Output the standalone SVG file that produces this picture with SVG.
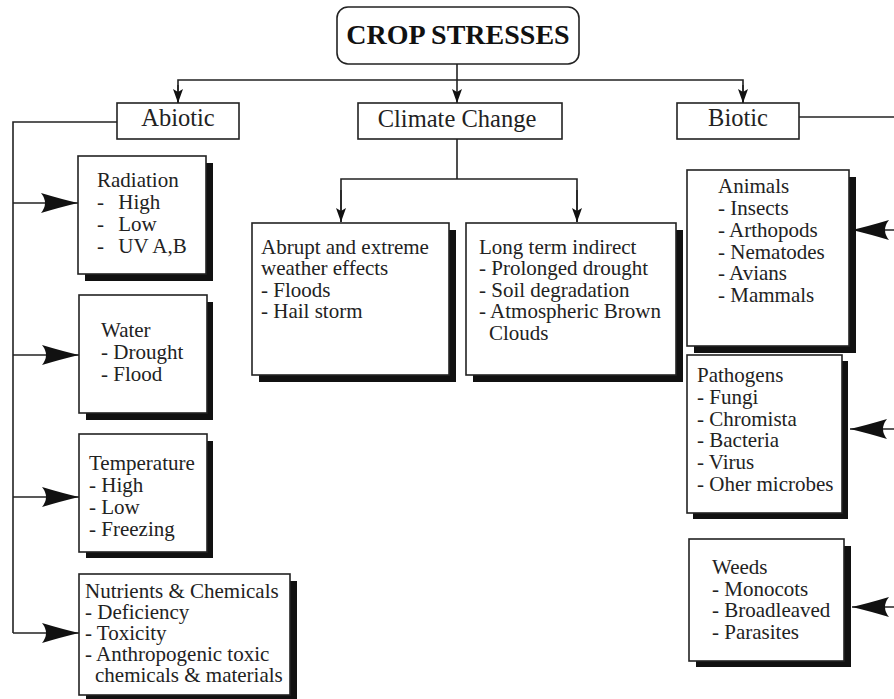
<svg xmlns="http://www.w3.org/2000/svg" width="894" height="699" viewBox="0 0 894 699">
<style>
.bx{fill:#fff;stroke:#222;stroke-width:1.6}
.sh{fill:#111}
.ln{fill:none;stroke:#222;stroke-width:1.6}
.t{font-family:"Liberation Serif","Times New Roman",serif;font-size:21px;fill:#222}
.h{font-family:"Liberation Serif","Times New Roman",serif;font-size:24.5px;fill:#222;text-anchor:middle}
.title{font-family:"Liberation Serif","Times New Roman",serif;font-size:28px;font-weight:bold;fill:#111;text-anchor:middle}
</style>
<defs>
<marker id="sm" markerUnits="userSpaceOnUse" markerWidth="16" markerHeight="12" refX="14" refY="5" orient="auto" overflow="visible">
<path d="M0,0 L14,5 L0,10 L3,5 Z" fill="#111"/>
</marker>
<marker id="big" markerUnits="userSpaceOnUse" markerWidth="40" markerHeight="24" refX="37" refY="11" orient="auto" overflow="visible">
<path d="M37,11 Q20,7 0,1 Q8,11 0,21 Q20,15 37,11 Z" fill="#111"/>
</marker>
</defs>

<g id="connectors">
<line class="ln" x1="457" y1="64" x2="457" y2="103" marker-end="url(#sm)"/>
<polyline class="ln" points="178,103 178,80 743,80 743,103" />
<line class="ln" x1="178" y1="85" x2="178" y2="103" marker-end="url(#sm)"/>
<line class="ln" x1="743" y1="85" x2="743" y2="103" marker-end="url(#sm)"/>
<polyline class="ln" points="117,122 13,122 13,633"/>
<line class="ln" x1="13" y1="203" x2="78" y2="203" marker-end="url(#big)"/>
<line class="ln" x1="13" y1="355" x2="79" y2="355" marker-end="url(#big)"/>
<line class="ln" x1="13" y1="497" x2="79" y2="497" marker-end="url(#big)"/>
<line class="ln" x1="13" y1="633" x2="79" y2="633" marker-end="url(#big)"/>
<polyline class="ln" points="457,139 457,179"/>
<polyline class="ln" points="341,222 341,179 577,179 577,222"/>
<line class="ln" x1="341" y1="190" x2="341" y2="222" marker-end="url(#sm)"/>
<line class="ln" x1="577" y1="190" x2="577" y2="222" marker-end="url(#sm)"/>
<line class="ln" x1="799" y1="117" x2="894" y2="117"/>
<line class="ln" x1="894" y1="230" x2="852" y2="230" marker-end="url(#big)"/>
<line class="ln" x1="894" y1="429" x2="850" y2="429" marker-end="url(#big)"/>
<line class="ln" x1="894" y1="607" x2="852" y2="607" marker-end="url(#big)"/>
</g>

<g id="crop-stresses">
<rect class="bx" x="337" y="7" width="242" height="57" rx="11"/>
<text class="title" x="458" y="44">CROP STRESSES</text>
</g>

<g id="abiotic">
<rect class="bx" x="117" y="103" width="122" height="36"/>
<text class="h" x="178" y="126">Abiotic</text>
</g>

<g id="climate-change">
<rect class="bx" x="358" y="103" width="204" height="36"/>
<text class="h" x="457" y="127">Climate Change</text>
</g>

<g id="biotic">
<rect class="bx" x="677" y="103" width="122" height="36"/>
<text class="h" x="738" y="126">Biotic</text>
</g>

<g id="radiation">
<rect class="sh" x="85" y="163" width="128" height="118"/>
<rect class="bx" x="78" y="156" width="128" height="118"/>
<text class="t" x="97" y="187">Radiation</text>
<text class="t" x="97" y="209">- <tspan dx="9">High</tspan></text>
<text class="t" x="97" y="231">- <tspan dx="9">Low</tspan></text>
<text class="t" x="97" y="253">- <tspan dx="9">UV A,B</tspan></text>
</g>

<g id="water">
<rect class="sh" x="86" y="302" width="127" height="118"/>
<rect class="bx" x="79" y="295" width="128" height="118"/>
<text class="t" x="101" y="337">Water</text>
<text class="t" x="101" y="359">- Drought</text>
<text class="t" x="101" y="381">- Flood</text>
</g>

<g id="temperature">
<rect class="sh" x="86" y="441" width="127" height="117"/>
<rect class="bx" x="79" y="434" width="128" height="118"/>
<text class="t" x="89" y="470">Temperature</text>
<text class="t" x="89" y="492">- High</text>
<text class="t" x="89" y="514">- Low</text>
<text class="t" x="89" y="536">- Freezing</text>
</g>

<g id="nutrients">
<rect class="sh" x="86" y="581" width="211" height="121"/>
<rect class="bx" x="79" y="574" width="211" height="121"/>
<text class="t" x="85" y="598">Nutrients &amp; Chemicals</text>
<text class="t" x="85" y="619">- Deficiency</text>
<text class="t" x="85" y="640">- Toxicity</text>
<text class="t" x="85" y="661">- Anthropogenic toxic</text>
<text class="t" x="95" y="682">chemicals &amp; materials</text>
</g>

<g id="abrupt">
<rect class="sh" x="259" y="230" width="197" height="152"/>
<rect class="bx" x="252" y="223" width="197" height="152"/>
<text class="t" x="261" y="254">Abrupt and extreme</text>
<text class="t" x="261" y="275">weather effects</text>
<text class="t" x="261" y="297">- Floods</text>
<text class="t" x="261" y="318">- Hail storm</text>
</g>

<g id="long-term">
<rect class="sh" x="473" y="230" width="210" height="152"/>
<rect class="bx" x="466" y="223" width="210" height="152"/>
<text class="t" x="479" y="254">Long term indirect</text>
<text class="t" x="479" y="275">- Prolonged drought</text>
<text class="t" x="479" y="297">- Soil degradation</text>
<text class="t" x="479" y="318">- Atmospheric Brown</text>
<text class="t" x="489" y="340">Clouds</text>
</g>

<g id="animals">
<rect class="sh" x="694" y="177" width="162" height="176"/>
<rect class="bx" x="687" y="170" width="162" height="176"/>
<text class="t" x="718" y="193">Animals</text>
<text class="t" x="718" y="215">- Insects</text>
<text class="t" x="718" y="237">- Arthopods</text>
<text class="t" x="718" y="259">- Nematodes</text>
<text class="t" x="718" y="280">- Avians</text>
<text class="t" x="718" y="302">- Mammals</text>
</g>

<g id="pathogens">
<rect class="sh" x="693" y="361" width="155" height="158"/>
<rect class="bx" x="687" y="355" width="155" height="158"/>
<text class="t" x="697" y="382">Pathogens</text>
<text class="t" x="697" y="404">- Fungi</text>
<text class="t" x="697" y="426">- Chromista</text>
<text class="t" x="697" y="447">- Bacteria</text>
<text class="t" x="697" y="469">- Virus</text>
<text class="t" x="697" y="491">- Oher microbes</text>
</g>

<g id="weeds">
<rect class="sh" x="696" y="546" width="155" height="121"/>
<rect class="bx" x="689" y="539" width="155" height="122"/>
<text class="t" x="712" y="574">Weeds</text>
<text class="t" x="712" y="596">- Monocots</text>
<text class="t" x="712" y="617">- Broadleaved</text>
<text class="t" x="712" y="639">- Parasites</text>
</g>
</svg>
